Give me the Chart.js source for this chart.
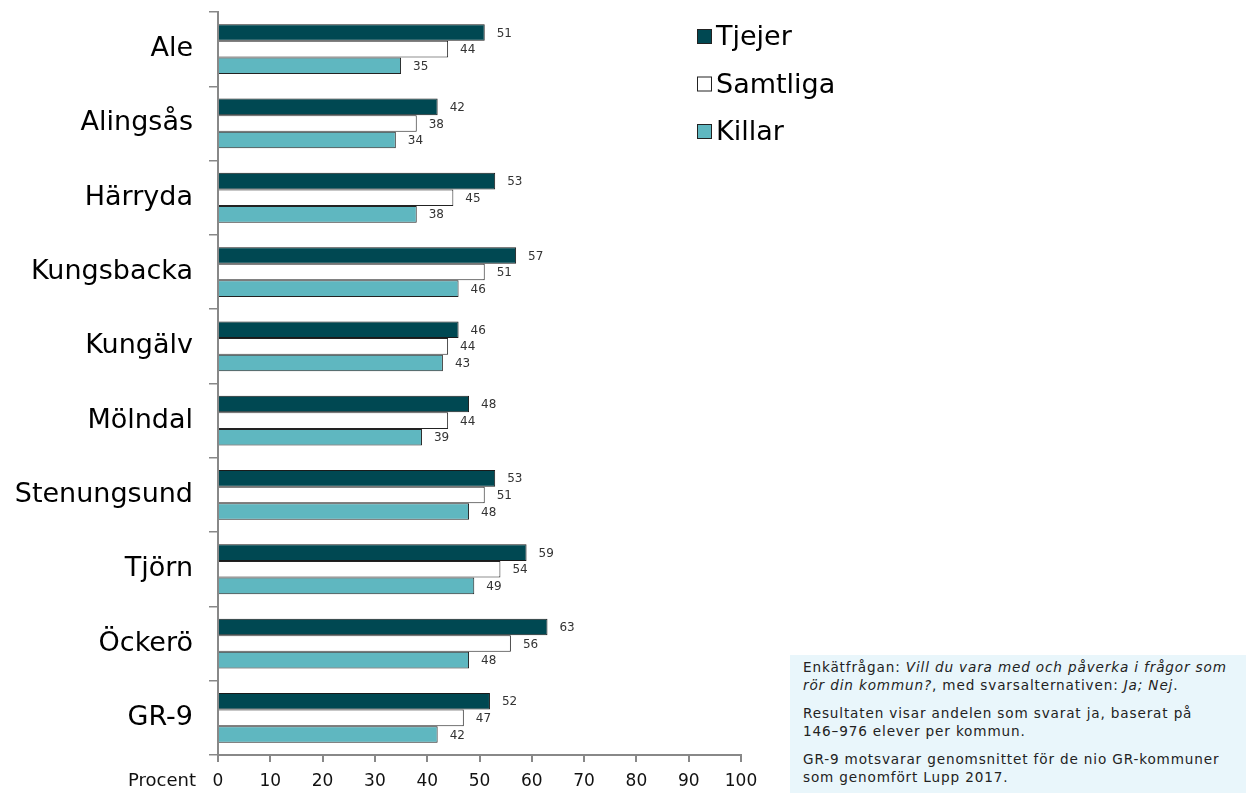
<!DOCTYPE html>
<html>
<head>
<meta charset="utf-8">
<script src="https://cdn.jsdelivr.net/npm/chart.js@4.4.0/dist/chart.umd.min.js"></script>
<style>
  body { margin: 0; background: #fff; font-family: "DejaVu Sans", Verdana, sans-serif; }
  #wrap { position: relative; width: 1246px; height: 805px; }
  #info {
    position: absolute; left: 790px; top: 655px; width: 456px; height: 138px;
    background: #e9f6fb; box-sizing: border-box; padding: 3px 0 0 13px;
    font-size: 13.6px; letter-spacing: 0.85px; color: #222; line-height: 18px;
  }
  #info p { margin: 0 0 10px 0; }
  .nw { white-space: nowrap; }
</style>
</head>
<body>
<div id="wrap">
  <canvas id="myChart" width="1246" height="805"></canvas>
  <div id="info">
    <p>Enkätfrågan: <i>Vill du vara med och påverka i frågor som rör din kommun?</i>, med svarsalternativen: <i>Ja; Nej</i>.</p>
    <p>Resultaten visar andelen som svarat ja, baserat på <span class="nw">146–976</span> elever per kommun.</p>
    <p>GR-9 motsvarar genomsnittet för de nio GR-kommuner som genomfört Lupp 2017.</p>
  </div>
</div>
<script>
const kommuner = ["Ale", "Alingsås", "Härryda", "Kungsbacka", "Kungälv", "Mölndal", "Stenungsund", "Tjörn", "Öckerö", "GR-9"];
const tjejer = [51, 42, 53, 57, 46, 48, 53, 59, 63, 52];
const samtliga = [44, 38, 45, 51, 44, 44, 51, 54, 56, 47];
const killar = [35, 34, 38, 46, 43, 39, 48, 49, 48, 42];
const xTicks = [0, 10, 20, 30, 40, 50, 60, 70, 80, 90, 100];

const fontFamily = '"DejaVu Sans", Verdana, sans-serif';

// value labels to the right of each bar
const valueLabels = {
  id: "valueLabels",
  afterDatasetsDraw(chart) {
    const ctx = chart.ctx;
    ctx.save();
    ctx.font = "12px " + fontFamily;
    ctx.fillStyle = "#333";
    ctx.textBaseline = "middle";
    chart.data.datasets.forEach((ds, i) => {
      chart.getDatasetMeta(i).data.forEach((bar, j) => {
        ctx.fillText(ds.data[j], bar.x + 12, bar.y + 1);
      });
    });
    ctx.restore();
  }
};

// legend top right + "Procent" label
const extras = {
  id: "extras",
  afterDraw(chart) {
    const ctx = chart.ctx;
    ctx.save();
    ctx.textBaseline = "middle";
    chart.data.datasets.forEach((ds, i) => {
      const y = 37 + i * 47.5;
      ctx.fillStyle = ds.backgroundColor;
      ctx.fillRect(697.5, y - 7.5, 14, 14);
      ctx.strokeStyle = "#222";
      ctx.lineWidth = 1;
      ctx.strokeRect(697.5, y - 7.5, 14, 14);
      ctx.fillStyle = "#000";
      ctx.font = "27px " + fontFamily;
      ctx.fillText(ds.label, 716, y + 1);
    });
    ctx.font = "18px " + fontFamily;
    ctx.textAlign = "right";
    ctx.fillStyle = "#111";
    ctx.fillText("Procent", 196, 781);
    ctx.restore();
  }
};

const data = {
  labels: kommuner,
  datasets: [
    { label: "Tjejer", data: tjejer, backgroundColor: "#004852", borderColor: "#1a1a1a", borderWidth: 1 },
    { label: "Samtliga", data: samtliga, backgroundColor: "#ffffff", borderColor: "#222", borderWidth: 1 },
    { label: "Killar", data: killar, backgroundColor: "#5fb7c0", borderColor: "#222", borderWidth: 1 }
  ]
};

const config = {
  type: "bar",
  data: data,
  options: {
    indexAxis: "y",
    responsive: false,
    animation: false,
    categoryPercentage: 0.67,
    barPercentage: 1,
    layout: { padding: { top: 12, right: 505, bottom: 0, left: 0 } },
    plugins: { legend: { display: false }, tooltip: { enabled: false } },
    scales: {
      x: {
        min: 0,
        max: 100,
        afterBuildTicks: (axis) => { axis.ticks = xTicks.map(v => ({ value: v })); },
        afterFit: (axis) => { axis.height = 50; },
        grid: { drawOnChartArea: false, drawTicks: true, tickLength: 7, color: "#888", lineWidth: 2 },
        border: { color: "#888", width: 2 },
        ticks: { color: "#111", font: { size: 17, family: fontFamily }, padding: 9 }
      },
      y: {
        afterFit: (axis) => { axis.width = 218; axis.paddingTop = 0; axis.paddingBottom = 0; },
        grid: { drawOnChartArea: false, drawTicks: true, tickLength: 9, color: "#888", lineWidth: 1.5 },
        border: { color: "#888", width: 2 },
        ticks: { color: "#000", font: { size: 27, family: fontFamily }, padding: 16 }
      }
    }
  },
  plugins: [valueLabels, extras]
};

const myChart = new Chart(document.getElementById("myChart"), config);
</script>
</body>
</html>
